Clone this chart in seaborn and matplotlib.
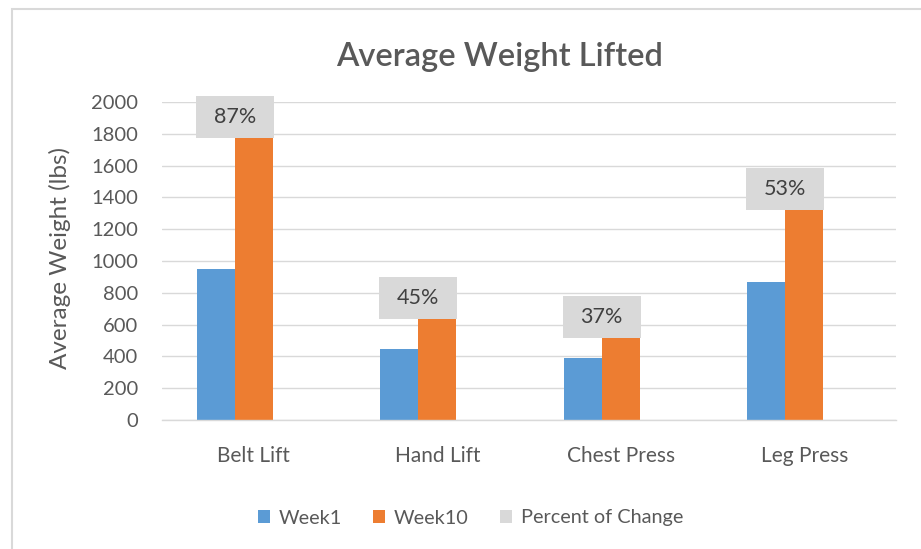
import pandas as pd
import matplotlib
matplotlib.use("Agg")
import matplotlib.pyplot as plt
from matplotlib.patches import Rectangle
import seaborn as sns

# data
exercises = ["Belt Lift", "Hand Lift", "Chest Press", "Leg Press"]
week1 = [950, 447, 390, 868]
week10 = [1775, 640, 520, 1322]
pct_change = [87, 45, 37, 53]
series = ["Week1", "Week10", "Percent of Change"]
colors = ["#5B9BD5", "#ED7D31", "#D9D9D9"]

rows = []
for i, ex in enumerate(exercises):
    rows.append((ex, "Week1", week1[i]))
    rows.append((ex, "Week10", week10[i]))
    # percent series sits on the same axis as a fraction, so it is invisible
    rows.append((ex, "Percent of Change", pct_change[i] / 100))
df = pd.DataFrame(rows, columns=["exercise", "series", "value"])

sns.set_theme(style="white")
plt.rcParams["font.family"] = ["Lato", "DejaVu Sans"]
txt = "#595959"
grid = "#D9D9D9"

fig = plt.figure(figsize=(9.21, 5.49), dpi=100)
ax = fig.add_axes([162 / 921, 1 - 420 / 549, 734 / 921, 318 / 549])

sns.barplot(data=df, x="exercise", y="value", hue="series", order=exercises,
            hue_order=series, palette=colors, width=0.62, linewidth=0,
            saturation=1, ax=ax, legend=True, zorder=2)

ax.set_ylim(0, 2000)
ax.set_xlim(-0.5, 3.5)
ax.set_yticks(range(0, 2001, 200))
ax.yaxis.grid(True, color=grid, linewidth=1.0, zorder=0)
ax.set_axisbelow(True)
for s in ["top", "right", "left"]:
    ax.spines[s].set_visible(False)
ax.spines["bottom"].set_color(grid)
ax.spines["bottom"].set_linewidth(1.0)
ax.tick_params(axis="y", length=0, pad=17, labelsize=14.5, labelcolor=txt)
ax.tick_params(axis="x", length=0, pad=19, labelsize=15, labelcolor=txt)
ax.set_xlabel("")
ax.set_ylabel("")

# percent of change labels in grey boxes near the Week10 bars
bar_w = 0.62 / 3
box_w = 78 / 183.5
box_h = 42 / 0.159
for i, p in enumerate(pct_change):
    cx = i - bar_w / 2
    cy = week10[i] + 130
    ax.add_patch(Rectangle((cx - box_w / 2, cy - box_h / 2), box_w, box_h,
                           facecolor="#D9D9D9", edgecolor="none", zorder=3,
                           clip_on=False))
    ax.text(cx, cy, f"{p}%", ha="center", va="center", fontsize=15.5,
            color="#404040", zorder=4)

handles, labels = ax.get_legend_handles_labels()
ax.legend_.remove()
fig.legend(handles, labels, loc="center", bbox_to_anchor=(470.5 / 921, 1 - 518 / 549),
           ncol=3, frameon=False, fontsize=14.3, labelcolor=txt,
           handlelength=0.6, handleheight=0.6, handletextpad=0.46,
           columnspacing=1.55)

fig.text(499.5 / 921, 1 - 57 / 549, "Average Weight Lifted", ha="center",
         va="center", fontsize=23.5, color=txt, fontweight="semibold")
fig.text(60 / 921, 1 - 258 / 549, "Average Weight (lbs)", ha="center",
         va="center", rotation=90, fontsize=17.5, color=txt)

# chart frame, cut off at the right and bottom
fig.patches.append(Rectangle((12 / 921, -0.1), 1.2, 1 - 9 / 549 + 0.1,
                             transform=fig.transFigure, fill=False,
                             edgecolor=grid, linewidth=1.5))

fig.savefig("out.png", dpi=100)
